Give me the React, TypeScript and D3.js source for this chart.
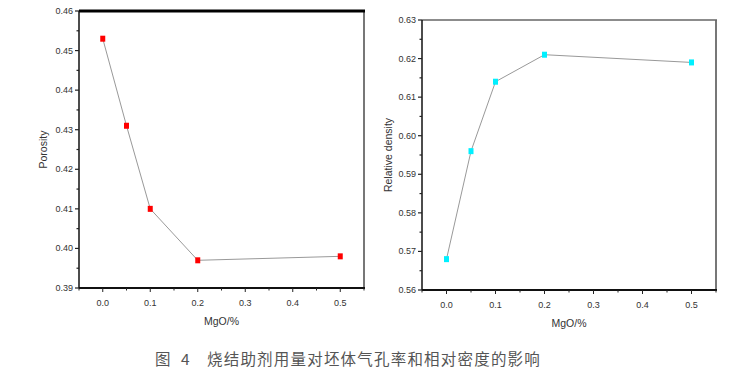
import React from "react";
import * as d3 from "d3";

const mgo = [0, 0.05, 0.1, 0.2, 0.5];
const porosity = [0.453, 0.431, 0.41, 0.397, 0.398];
const density = [0.568, 0.596, 0.614, 0.621, 0.619];
const xTicks = [0, 0.1, 0.2, 0.3, 0.4, 0.5];
const porosityTicks = [0.39, 0.4, 0.41, 0.42, 0.43, 0.44, 0.45, 0.46];
const densityTicks = [0.56, 0.57, 0.58, 0.59, 0.6, 0.61, 0.62, 0.63];
const captionParts = ["图", "4", "烧结助剂用量对坯体气孔率和相对密度的影响"];

type PanelProps = {
  left: number; right: number; top: number; bottom: number;
  values: number[]; yDomain: [number, number]; yTicks: number[];
  color: string; yLabel: string; thickTop: boolean; yLabelX: number;
};

function Panel(p: PanelProps) {
  const x = d3.scaleLinear().domain([-0.05, 0.55]).range([p.left, p.right]);
  const y = d3.scaleLinear().domain(p.yDomain).range([p.bottom, p.top]);
  const line = d3.line<number>().x((_, i) => x(mgo[i])).y((v) => y(v));
  const minorX = d3.range(-0.05, 0.551, 0.05);
  const minorY = d3.range(p.yDomain[0], p.yDomain[1] + 0.0001, 0.005);
  const font = "Liberation Sans, Arial, sans-serif";
  const fmtY = d3.format(".2f");
  const fmtX = d3.format(".1f");
  return (
    <g>
      <line x1={p.right} x2={p.right} y1={p.top} y2={p.bottom} stroke="#777" strokeWidth={2} />
      <line x1={p.left} x2={p.right + 1} y1={p.top} y2={p.top}
        stroke={p.thickTop ? "#000" : "#666"} strokeWidth={p.thickTop ? 3 : 1.5} />
      <line x1={p.left} x2={p.left} y1={p.top} y2={p.bottom} stroke="#111" strokeWidth={1.5} />
      <line x1={p.left} x2={p.right + 1} y1={p.bottom} y2={p.bottom} stroke="#111" strokeWidth={2} />
      {minorX.map((t, i) => (
        <line key={"mx" + i} x1={x(t)} x2={x(t)} y1={p.bottom} y2={p.bottom + (Math.abs(Math.round(t * 10) - t * 10) < 1e-6 ? 4 : 2.5)}
          stroke="#222" strokeWidth={1} />
      ))}
      {xTicks.map((t) => (
        <text key={"xl" + t} x={x(t)} y={p.bottom + 18} textAnchor="middle" fontSize={9} fill="#333" fontFamily={font}>
          {fmtX(t)}
        </text>
      ))}
      {minorY.map((t, i) => (
        <line key={"my" + i} x1={p.left} x2={p.left - (i % 2 === 0 ? 4 : 2.5)} y1={y(t)} y2={y(t)}
          stroke="#222" strokeWidth={1.2} />
      ))}
      {p.yTicks.map((t) => (
        <text key={"yl" + t} x={p.left - 6} y={y(t) + 3} textAnchor="end" fontSize={9} fill="#333" fontFamily={font}>
          {fmtY(t)}
        </text>
      ))}
      <text x={(p.left + p.right) / 2} y={p.bottom + 37} textAnchor="middle" fontSize={10.5} fill="#333" fontFamily={font}>
        MgO/%
      </text>
      <text transform={`translate(${p.yLabelX},${(p.top + p.bottom) / 2}) rotate(-90)`} textAnchor="middle"
        fontSize={10.5} fill="#333" fontFamily={font}>
        {p.yLabel}
      </text>
      <path d={line(p.values) || ""} fill="none" stroke="#999" strokeWidth={1} />
      {p.values.map((v, i) => (
        <rect key={"pt" + i} x={x(mgo[i]) - 2.5} y={y(v) - 3} width={5} height={6} fill={p.color} />
      ))}
    </g>
  );
}

export default function App() {
  const capFont = "Noto Sans CJK SC";
  return (
    <svg width={753} height={380} style={{ position: "absolute", left: 0, top: 0, background: "#fff" }}>
      <rect width={753} height={380} fill="#fff" />
      <Panel left={79} right={364} top={11} bottom={288} values={porosity} yDomain={[0.39, 0.46]}
        yTicks={porosityTicks} color="#ff0000" yLabel="Porosity" thickTop={true} yLabelX={47} />
      <Panel left={422} right={716} top={20} bottom={290} values={density} yDomain={[0.56, 0.63]}
        yTicks={densityTicks} color="#00f0ff" yLabel="Relative density" thickTop={false} yLabelX={392} />
      <text x={155} y={365} fontSize={15.5} fill="#555" fontFamily={capFont}>{captionParts[0]}</text>
      <text x={181} y={365} fontSize={15.5} fill="#555" fontFamily={capFont}>{captionParts[1]}</text>
      <text x={207} y={365} fontSize={15.5} letterSpacing={1.2} fill="#555" fontFamily={capFont}>{captionParts[2]}</text>
    </svg>
  );
}
